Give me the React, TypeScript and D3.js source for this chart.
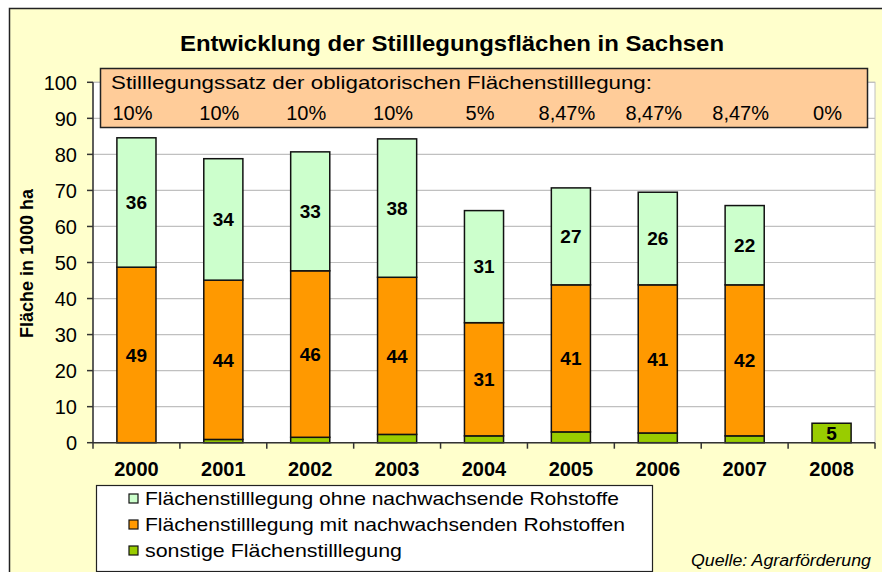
import React, { useRef, useEffect } from "react";
import * as d3 from "d3";

// Werte (1000 ha)
const years = ["2000", "2001", "2002", "2003", "2004", "2005", "2006", "2007", "2008"];
const ohneRohstoffe = [35.9, 33.7, 33.0, 38.4, 31.1, 26.9, 25.7, 22.0, 0];
const mitRohstoffe = [48.7, 44.2, 46.2, 43.6, 31.4, 40.8, 41.1, 41.9, 0];
const sonstige = [0, 0.9, 1.5, 2.3, 1.9, 3.0, 2.7, 1.9, 5.4];
const rates = ["10%", "10%", "10%", "10%", "5%", "8,47%", "8,47%", "8,47%", "0%"];
const yTicks = [0, 10, 20, 30, 40, 50, 60, 70, 80, 90, 100];

const seriesKeys = ["sonstige", "mit", "ohne"];
const seriesNames = {
  ohne: "Flächenstilllegung ohne nachwachsende Rohstoffe",
  mit: "Flächenstilllegung mit nachwachsenden Rohstoffen",
  sonstige: "sonstige Flächenstilllegung",
};
const colors = { ohne: "#CCFFCC", mit: "#FF9900", sonstige: "#99CC00" };

const App = () => {
  const svgRef = useRef(null);

  useEffect(() => {
    const width = 882;
    const height = 572;
    const font = "'Liberation Sans', Arial, sans-serif";
    const svg = d3.select(svgRef.current).attr("width", width).attr("height", height);
    svg.selectAll("*").remove();

    // Diagrammfläche
    svg
      .append("rect")
      .attr("x", 9.5)
      .attr("y", 8.5)
      .attr("width", 900)
      .attr("height", 600)
      .attr("fill", "#FFFFCC")
      .attr("stroke", "#222")
      .attr("stroke-width", 1.5);

    const x = d3
      .scaleBand()
      .domain(years)
      .range([93, 875])
      .paddingInner(0.55)
      .paddingOuter(0.275);
    const y = d3.scaleLinear().domain([0, 100]).range([442.7, 82.3]);

    // Zeichnungsfläche
    svg
      .append("rect")
      .attr("x", 93)
      .attr("y", y(100))
      .attr("width", 875 - 93)
      .attr("height", y(0) - y(100))
      .attr("fill", "#fff")
      .attr("stroke", "#c0c0c0");

    // Gitternetz
    svg
      .append("g")
      .selectAll("line")
      .data(yTicks.filter((t) => t > 0))
      .join("line")
      .attr("x1", 93)
      .attr("x2", 875)
      .attr("y1", (d) => y(d))
      .attr("y2", (d) => y(d))
      .attr("stroke", "#c0c0c0")
      .attr("stroke-width", 1.2);

    // Stapel
    const table = years.map((yr, i) => ({
      year: yr,
      ohne: ohneRohstoffe[i],
      mit: mitRohstoffe[i],
      sonstige: sonstige[i],
    }));
    const stacked = d3.stack().keys(seriesKeys)(table);

    stacked.forEach((layer) => {
      const g = svg.append("g");
      g.selectAll("rect")
        .data(layer.filter((d) => d[1] - d[0] > 0))
        .join("rect")
        .attr("x", (d) => x(d.data.year))
        .attr("y", (d) => y(d[1]))
        .attr("width", x.bandwidth())
        .attr("height", (d) => y(d[0]) - y(d[1]))
        .attr("fill", colors[layer.key])
        .attr("stroke", "#111")
        .attr("stroke-width", 1.5);

      g.selectAll("text")
        .data(layer.filter((d) => d[1] - d[0] >= 4))
        .join("text")
        .attr("x", (d) => x(d.data.year) + x.bandwidth() / 2)
        .attr("y", (d) => y((d[0] + d[1]) / 2))
        .attr("dy", "0.36em")
        .attr("text-anchor", "middle")
        .attr("font-family", font)
        .attr("font-weight", "bold")
        .attr("font-size", "19px")
        .attr("fill", "#000")
        .text((d) => d3.format(".0f")(d[1] - d[0]));
    });

    // Y-Achse
    const yAxis = svg.append("g");
    yAxis
      .append("line")
      .attr("x1", 93)
      .attr("x2", 93)
      .attr("y1", y(100))
      .attr("y2", y(0))
      .attr("stroke", "#333")
      .attr("stroke-width", 1.5);
    yAxis
      .selectAll("line.tick")
      .data(yTicks)
      .join("line")
      .attr("class", "tick")
      .attr("x1", 87)
      .attr("x2", 93)
      .attr("y1", (d) => y(d))
      .attr("y2", (d) => y(d))
      .attr("stroke", "#333")
      .attr("stroke-width", 1.5);
    yAxis
      .selectAll("text")
      .data(yTicks)
      .join("text")
      .attr("x", 77)
      .attr("y", (d) => y(d))
      .attr("dy", "0.36em")
      .attr("text-anchor", "end")
      .attr("font-family", font)
      .attr("font-size", "20px")
      .attr("fill", "#000")
      .text((d) => d);

    svg
      .append("text")
      .attr("transform", `translate(33, ${y(50) + 1}) rotate(-90)`)
      .attr("text-anchor", "middle")
      .attr("font-family", font)
      .attr("font-weight", "bold")
      .attr("font-size", "18px")
      .text("Fläche in 1000 ha");

    // X-Achse
    const xAxis = svg.append("g");
    xAxis
      .append("line")
      .attr("x1", 93)
      .attr("x2", 875)
      .attr("y1", y(0))
      .attr("y2", y(0))
      .attr("stroke", "#333")
      .attr("stroke-width", 1.5);
    const step = x.step();
    xAxis
      .selectAll("line.tick")
      .data(d3.range(years.length + 1))
      .join("line")
      .attr("class", "tick")
      .attr("x1", (i) => 93 + i * step)
      .attr("x2", (i) => 93 + i * step)
      .attr("y1", y(0))
      .attr("y2", y(0) + 6)
      .attr("stroke", "#333")
      .attr("stroke-width", 1.5);
    xAxis
      .selectAll("text")
      .data(years)
      .join("text")
      .attr("x", (d) => x(d) + x.bandwidth() / 2)
      .attr("y", 476)
      .attr("text-anchor", "middle")
      .attr("font-family", font)
      .attr("font-weight", "bold")
      .attr("font-size", "20px")
      .text((d) => d);

    // Kasten mit Stilllegungssatz
    svg
      .append("rect")
      .attr("x", 100.5)
      .attr("y", 68.5)
      .attr("width", 767)
      .attr("height", 59)
      .attr("fill", "#FFCC99")
      .attr("stroke", "#222")
      .attr("stroke-width", 1.5);
    svg
      .append("text")
      .attr("x", 111)
      .attr("y", 89)
      .attr("font-family", font)
      .attr("font-size", "19px")
      .attr("textLength", 541)
      .attr("lengthAdjust", "spacingAndGlyphs")
      .text("Stilllegungssatz der obligatorischen Flächenstilllegung:");
    svg
      .append("g")
      .selectAll("text")
      .data(years)
      .join("text")
      .attr("x", (d) => x(d) + x.bandwidth() / 2 - 4)
      .attr("y", 120)
      .attr("text-anchor", "middle")
      .attr("font-family", font)
      .attr("font-size", "20px")
      .text((d, i) => rates[i]);

    // Titel
    svg
      .append("text")
      .attr("x", 452)
      .attr("y", 51)
      .attr("text-anchor", "middle")
      .attr("font-family", font)
      .attr("font-weight", "bold")
      .attr("font-size", "22px")
      .attr("textLength", 544)
      .attr("lengthAdjust", "spacingAndGlyphs")
      .text("Entwicklung der Stilllegungsflächen in Sachsen");

    // Legende
    const legend = svg.append("g");
    legend
      .append("rect")
      .attr("x", 96.5)
      .attr("y", 485.5)
      .attr("width", 556)
      .attr("height", 86)
      .attr("fill", "#fff")
      .attr("stroke", "#222")
      .attr("stroke-width", 1.2);
    const legendKeys = ["ohne", "mit", "sonstige"];
    const legendWidths = { ohne: 474, mit: 480, sonstige: 257 };
    legend
      .selectAll("rect.key")
      .data(legendKeys)
      .join("rect")
      .attr("class", "key")
      .attr("x", 129)
      .attr("y", (d, i) => 494 + i * 26)
      .attr("width", 9)
      .attr("height", 9)
      .attr("fill", (d) => colors[d])
      .attr("stroke", "#111")
      .attr("stroke-width", 1.2);
    legend
      .selectAll("text")
      .data(legendKeys)
      .join("text")
      .attr("x", 145)
      .attr("y", (d, i) => 505 + i * 26)
      .attr("font-family", font)
      .attr("font-size", "19px")
      .attr("textLength", (d) => legendWidths[d])
      .attr("lengthAdjust", "spacingAndGlyphs")
      .text((d) => seriesNames[d]);

    // Quelle
    svg
      .append("text")
      .attr("x", 871)
      .attr("y", 566)
      .attr("text-anchor", "end")
      .attr("font-family", font)
      .attr("font-style", "italic")
      .attr("font-size", "16px")
      .attr("textLength", 180)
      .attr("lengthAdjust", "spacingAndGlyphs")
      .text("Quelle: Agrarförderung");
  }, []);

  return (
    <div style={{ position: "absolute", left: 0, top: 0 }}>
      <svg ref={svgRef} style={{ display: "block" }}></svg>
    </div>
  );
};

export default App;
